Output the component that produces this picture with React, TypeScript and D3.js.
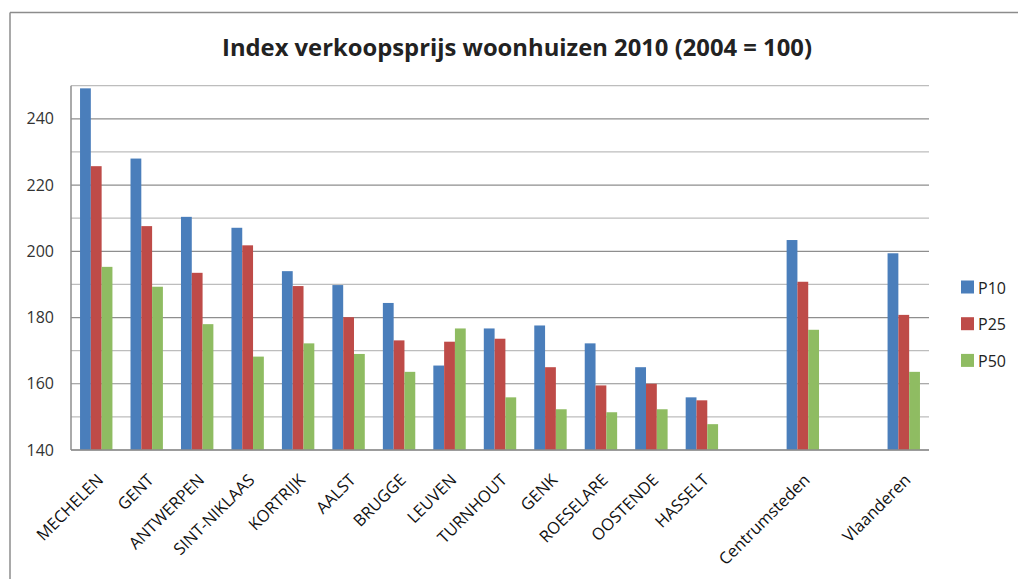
import React from "react";
import * as d3 from "d3";

const categories = [
  "MECHELEN", "GENT", "ANTWERPEN", "SINT-NIKLAAS", "KORTRIJK", "AALST", "BRUGGE",
  "LEUVEN", "TURNHOUT", "GENK", "ROESELARE", "OOSTENDE", "HASSELT", "",
  "Centrumsteden", " ", "Vlaanderen",
];
const seriesNames = ["P10", "P25", "P50"];
const seriesColors = ["#4a7ebb", "#be4b48", "#8fbc62"];
const p10 = [249.2, 228.0, 210.4, 207.1, 194.0, 189.8, 184.4, 165.5, 176.7, 177.6, 172.2, 165.0, 155.9, null, 203.4, null, 199.4];
const p25 = [225.7, 207.6, 193.5, 201.8, 189.5, 180.1, 173.1, 172.7, 173.6, 165.0, 159.5, 160.0, 155.0, null, 190.8, null, 180.8];
const p50 = [195.3, 189.3, 178.0, 168.2, 172.2, 169.0, 163.6, 176.7, 155.9, 152.3, 151.4, 152.3, 147.8, null, 176.3, null, 163.6];
const yTicks = [140, 160, 180, 200, 220, 240];
const yMinor = [150, 170, 190, 210, 230, 250];
const title = "Index verkoopsprijs woonhuizen 2010 (2004 = 100)";

export default function App() {
  const W = 1018, H = 579;
  const left = 71, right = 929, top = 85.7, bottom = 450;
  const x = d3.scaleBand<string>().domain(categories).range([left, right]).paddingInner(0).paddingOuter(0);
  const y = d3.scaleLinear().domain([140, 250]).range([bottom, top]);
  const bw = x.bandwidth();
  const barW = bw * 0.214;
  const groupW = barW * 3;
  const series = [p10, p25, p50];
  const font = "'Open Sans', 'DejaVu Sans', sans-serif";

  return (
    <svg width={W} height={H} style={{ position: "absolute", left: 0, top: 0, background: "#fff" }}>
      <line x1={10} y1={12.5} x2={W} y2={12.5} stroke="#8c8c8c" strokeWidth={1.5} />
      <line x1={10} y1={12.5} x2={10} y2={H} stroke="#8c8c8c" strokeWidth={1.5} />
      <text x={517} y={56} textAnchor="middle" fontFamily={font} fontWeight="bold" fontSize={24}
        textLength={590} lengthAdjust="spacingAndGlyphs" fill="#222">{title}</text>
      {yMinor.map((v) => (
        <line key={"m" + v} x1={left} x2={right} y1={y(v)} y2={y(v)} stroke="#bdbdbd" strokeWidth={1.2} />
      ))}
      {yTicks.map((v) => (
        <line key={"t" + v} x1={left} x2={right} y1={y(v)} y2={y(v)} stroke="#8e8e8e" strokeWidth={1.2} />
      ))}
      {yTicks.map((v) => (
        <text key={"l" + v} x={54} y={y(v) + 5.5} textAnchor="end" fontFamily={font} fontSize={16} fill="#333">{v}</text>
      ))}
      {series.map((vals, si) =>
        vals.map((v, ci) =>
          v == null ? null : (
            <rect key={si + "-" + ci}
              x={(x(categories[ci]) as number) + (bw - groupW) / 2 + si * barW}
              y={y(v)} width={barW} height={bottom - y(v)}
              fill={seriesColors[si]} />
          )
        )
      )}
      <line x1={left} x2={left} y1={top} y2={bottom} stroke="#8e8e8e" strokeWidth={1.5} />
      <line x1={left} x2={right} y1={bottom} y2={bottom} stroke="#8e8e8e" strokeWidth={1.5} />
      {categories.map((c, ci) =>
        c.trim() === "" ? null : (
          <text key={"c" + ci} textAnchor="end" fontFamily={font} fontSize={16.5} fill="#111"
            transform={`translate(${(x(c) as number) + bw / 2 + 8},${481}) rotate(-45)`}>{c}</text>
        )
      )}
      {seriesNames.map((s, i) => (
        <g key={s} transform={`translate(961,${287.5 + i * 36.7})`}>
          <rect x={0} y={-7} width={13} height={13} fill={seriesColors[i]} />
          <text x={17} y={6} fontFamily={font} fontSize={16} fill="#222">{s}</text>
        </g>
      ))}
    </svg>
  );
}
